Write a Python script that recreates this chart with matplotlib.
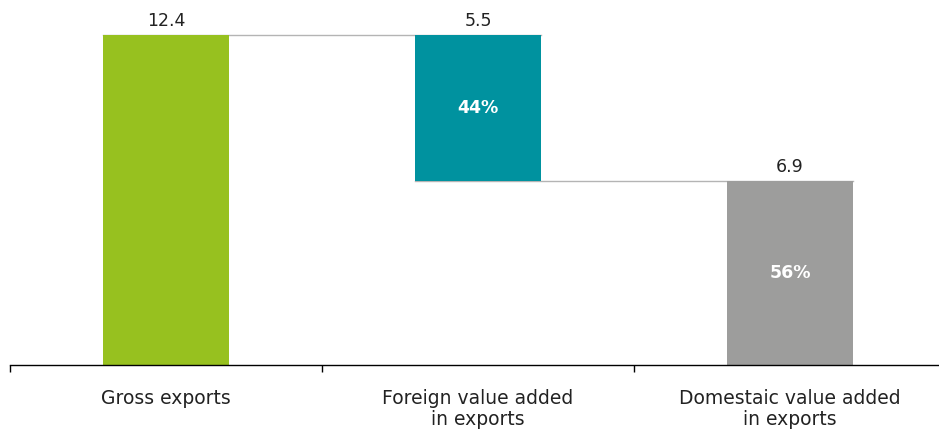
import matplotlib.pyplot as plt
import numpy as np

# value added in exports
categories = ['Gross exports', 'Foreign value added\nin exports', 'Domestaic value added\nin exports']
values = [12.4, 5.5, 6.9]
shares = ['', '44%', '56%']
colors = ['#97c11f', '#00929f', '#9d9d9c']

# waterfall bases: gross from 0, foreign hangs from the top, domestic from 0
bottoms = [0, values[0] - values[1], 0]

fig = plt.figure(figsize=(9.39, 4.34), dpi=100)
ax = fig.add_axes([10 / 939, 69 / 434, 936 / 939, 364.6 / 434])

x = np.arange(len(values))
w = 0.405
ax.bar(x, values, width=w, bottom=bottoms, color=colors, zorder=2)

# connector lines between bars
tops = [b + v for b, v in zip(bottoms, values)]
ax.plot([x[0] - w / 2, x[1] + w / 2], [tops[0], tops[0]], color='#b4b4b4', lw=1, zorder=1)
ax.plot([x[1] - w / 2, x[2] + w / 2], [bottoms[1], bottoms[1]], color='#b4b4b4', lw=1, zorder=1)

for i in range(len(values)):
    ax.text(x[i], tops[i] + 0.2, f'{values[i]}', ha='center', va='bottom',
            fontsize=12.5, color='#222222')
    if shares[i]:
        ax.text(x[i], bottoms[i] + values[i] / 2, shares[i], ha='center', va='center',
                fontsize=12.5, color='white', fontweight='bold')

ax.set_xlim(-0.5, 2.5)
ax.set_ylim(0, 13.7)
ax.set_yticks([])
for s in ['left', 'right', 'top']:
    ax.spines[s].set_visible(False)
ax.spines['bottom'].set_linewidth(1)

ax.set_xticks([-0.5, 0.5, 1.5])
ax.set_xticklabels([])
ax.tick_params(axis='x', which='major', length=5, width=1, direction='out')
ax.set_xticks(x, minor=True)
ax.set_xticklabels(categories, minor=True, fontsize=13.5, color='#222222', linespacing=1.15)
ax.tick_params(axis='x', which='minor', length=0, pad=17)

fig.savefig('out.png', dpi=100)
